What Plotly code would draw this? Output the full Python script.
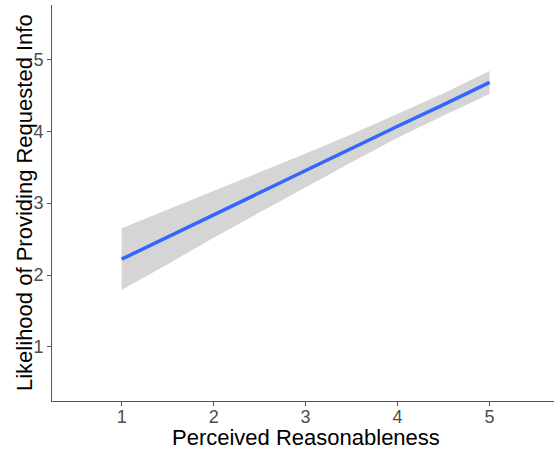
import plotly.graph_objects as go

# Fitted line and confidence band
x_vals = [1, 1.5, 2, 2.5, 3, 3.5, 4, 4.5, 5]
fit = [2.22, 2.53, 2.84, 3.14, 3.45, 3.76, 4.07, 4.37, 4.68]
upper = [2.65, 2.91, 3.16, 3.42, 3.69, 3.96, 4.24, 4.53, 4.84]
lower = [1.79, 2.15, 2.52, 2.87, 3.22, 3.57, 3.91, 4.22, 4.52]
tick_vals = [1, 2, 3, 4, 5]
tick_text = ["1", "2", "3", "4", "5"]
x_title = "Perceived Reasonableness"
y_title = "Likelihood of Providing Requested Info"

FONT = "Liberation Sans, Arial, sans-serif"

fig = go.Figure()
fig.add_trace(go.Scatter(
    x=x_vals + x_vals[::-1], y=upper + lower[::-1],
    fill="toself", fillcolor="#D5D5D5", line=dict(width=0),
    mode="lines", hoverinfo="skip", showlegend=False))
fig.add_trace(go.Scatter(
    x=x_vals, y=fit, mode="lines",
    line=dict(color="#3366FF", width=3.5), showlegend=False))

axis_common = dict(
    showgrid=False, zeroline=False, showline=True, linecolor="#555555",
    linewidth=1, ticks="outside", ticklen=4, tickcolor="#555555",
    tickfont=dict(family=FONT, size=18, color="#4D4D4D"),
    tickvals=tick_vals, ticktext=tick_text, mirror=False, automargin=False)

fig.update_layout(
    width=555, height=450,
    margin=dict(l=52, r=1, t=5, b=49),
    paper_bgcolor="white", plot_bgcolor="white",
    xaxis=dict(range=[0.243, 5.70], ticklabelstandoff=-5, **axis_common),
    yaxis=dict(range=[0.247, 5.757], **axis_common),
    annotations=[
        dict(text=x_title, xref="paper", yref="paper", x=0.505, y=0,
             yshift=-36, xanchor="center", yanchor="middle", showarrow=False,
             font=dict(family=FONT, size=22, color="black")),
        dict(text=y_title, xref="paper", yref="paper", x=0, y=0.5,
             xshift=-28, xanchor="center", yanchor="middle", showarrow=False,
             textangle=-90, font=dict(family=FONT, size=22, color="black")),
    ],
)

fig.write_html("out.html", config={"displayModeBar": False},
               post_script="document.body.style.margin='0';document.body.style.overflow='hidden';")
